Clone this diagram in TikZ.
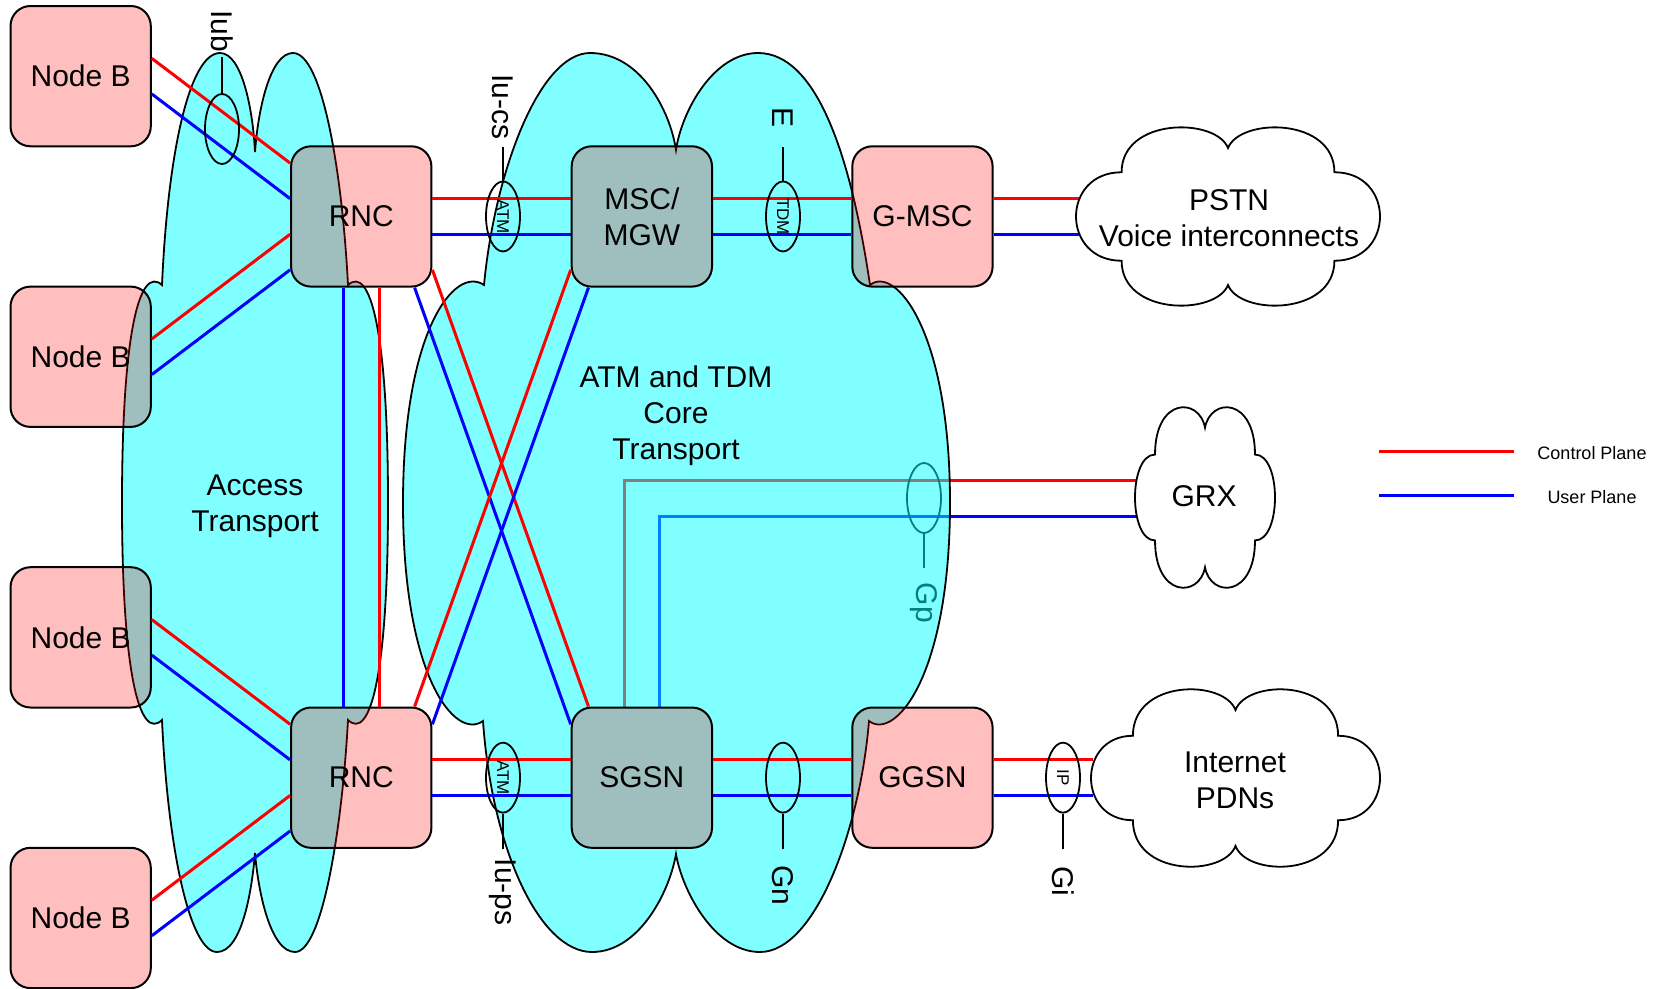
\documentclass[tikz,border=0pt]{standalone}
\usepackage{fontspec}
\setmainfont{Liberation Sans}
\usetikzlibrary{calc,shapes.geometric}
\definecolor{cloudcyan}{RGB}{0,255,255}
\definecolor{boxred}{RGB}{255,0,0}
\definecolor{cpred}{RGB}{255,0,0}
\definecolor{upblue}{RGB}{0,0,255}
\newcommand\bigfont{\fontsize{30}{36}\selectfont}
\newcommand\midfont{\fontsize{17}{20}\selectfont}
\newcommand\legfont{\fontsize{18}{21}\selectfont}
\pgfdeclarelayer{gplayer}
\pgfdeclarelayer{cloudlayer}
\pgfsetlayers{gplayer,cloudlayer,main}

\newcommand\defports[1]{%
  \foreach \k/\f in {1/0.125,3/0.375,5/0.625,7/0.875}{%
    \coordinate (#1-w\k) at ($(#1.north west)!\f!(#1.south west)$);
    \coordinate (#1-e\k) at ($(#1.north east)!\f!(#1.south east)$);
    \coordinate (#1-n\k) at ($(#1.north west)!\f!(#1.north east)$);
    \coordinate (#1-s\k) at ($(#1.south west)!\f!(#1.south east)$);
  }}

% white cloud: x0 y0 w h a b t
\newcommand\wcloud[7]{%
  \begin{scope}[shift={(#1,#2)},xscale=#3,yscale=#4]
    \pgfmathsetmacro\cA{#5}\pgfmathsetmacro\cB{#6}\pgfmathsetmacro\cT{#7}
    \pgfmathsetmacro\cK{-(\cB+\cT)/6}\pgfmathsetmacro\cM{-\cA/3}
    \pgfmathsetmacro\cAr{1-\cA}\pgfmathsetmacro\cBr{1-\cB}
    \pgfmathsetmacro\cTr{1-\cT}\pgfmathsetmacro\cKr{1-(\cK)}
    \pgfmathsetmacro\cMr{1-(\cM)}
    \path[wcl] (\cA,\cBr) .. controls (\cM,\cBr) and (\cM,\cB) .. (\cA,\cB)
      .. controls (\cA,\cK) and (0.46,\cK) .. (0.5,\cT)
      .. controls (0.54,\cK) and (\cAr,\cK) .. (\cAr,\cB)
      .. controls (\cMr,\cB) and (\cMr,\cBr) .. (\cAr,\cBr)
      .. controls (\cAr,\cKr) and (0.54,\cKr) .. (0.5,\cTr)
      .. controls (0.46,\cKr) and (\cA,\cKr) .. (\cA,\cBr) -- cycle;
  \end{scope}}

\begin{document}
\begin{tikzpicture}[x=1pt,y=-1pt,
  netbox/.style={draw=black, line width=2pt, rounded corners=20pt, fill=boxred,
    fill opacity=0.25, text opacity=1, minimum width=140.3pt, minimum height=140.3pt,
    inner sep=0pt, font=\bigfont, align=center},
  transport/.style={draw=black, line width=1.8pt, fill=cloudcyan, fill opacity=0.5},
  cp/.style={draw=cpred, line width=3pt},
  up/.style={draw=upblue, line width=3pt},
  ifell/.style={draw=black, line width=1.8pt, ellipse, minimum width=70pt,
    minimum height=34pt, inner sep=0pt, rotate=-90, font=\midfont},
  iflabel/.style={rotate=-90, font=\bigfont, inner sep=0pt},
  stem/.style={draw=black, line width=1.8pt},
  wcl/.style={draw=black, line width=1.8pt, fill=white},
  bigtext/.style={font=\bigfont, align=center, inner sep=0pt},
  legtext/.style={font=\legfont, inner sep=0pt}]

\useasboundingbox (0,0) rectangle (1654,988);

% ---------- boxes ----------
\node[netbox] (nb1) at (80.65,76.15) {Node B};
\node[netbox] (nb2) at (80.65,356.75) {Node B};
\node[netbox] (nb3) at (80.65,637.35) {Node B};
\node[netbox] (nb4) at (80.65,917.95) {Node B};
\node[netbox] (rnc1) at (361.25,216.45) {RNC};
\node[netbox] (rnc2) at (361.25,777.65) {RNC};
\node[netbox] (msc) at (641.85,216.45) {MSC/\\MGW};
\node[netbox] (sgsn) at (641.85,777.65) {SGSN};
\node[netbox] (gmsc) at (922.45,216.45) {G-MSC};
\node[netbox] (ggsn) at (922.45,777.65) {GGSN};
\foreach \n in {nb1,nb2,nb3,nb4,rnc1,rnc2,msc,sgsn,gmsc,ggsn}{\defports{\n}}

% cloud edge coordinates
\coordinate (pstnL) at (1079,0);
\coordinate (inetL) at (1093,0);
\coordinate (gpR) at (1136,480);
\coordinate (gpB) at (1136,516);

% ---------- Gp (behind the core transport) ----------
\begin{pgfonlayer}{gplayer}
  \draw[cp] (sgsn-n3) |- (gpR);
  \draw[up] (sgsn-n5) |- (gpB);
  \node[ifell] (gp) at (924,498) {};
  \draw[stem] (gp.east) -- ++(0,34);
  \node[iflabel] (gplab) at (924,603) {Gp};
\end{pgfonlayer}

% ---------- transport clouds ----------
\begin{pgfonlayer}{cloudlayer}
  \path[transport] (162,285) .. controls (168,150) and (190,53) .. (220,53)
    .. controls (242,53) and (253,110) .. (255,152)
    .. controls (258,110) and (270,53) .. (293,53)
    .. controls (322,53) and (342,170) .. (348,285)
    .. controls (370,265) and (388,330) .. (388,503)
    .. controls (388,676) and (370,741) .. (348,720)
    .. controls (342,830) and (322,952) .. (295,952)
    .. controls (270,952) and (258,890) .. (255,853)
    .. controls (252,890) and (242,952) .. (217,952)
    .. controls (190,952) and (168,850) .. (162,720)
    .. controls (140,741) and (122,676) .. (122,503)
    .. controls (122,330) and (140,265) .. (162,285) -- cycle;
  \path[transport] (484,285) .. controls (495,170) and (540,53) .. (590,53)
    .. controls (640,53) and (670,110) .. (676,150)
    .. controls (682,110) and (714,53) .. (758,53)
    .. controls (815,53) and (850,150) .. (870,285)
    .. controls (895,265) and (950,330) .. (950,503)
    .. controls (950,676) and (895,741) .. (869,721)
    .. controls (860,830) and (815,952) .. (760,952)
    .. controls (714,952) and (682,890) .. (676,854)
    .. controls (670,890) and (640,952) .. (592,952)
    .. controls (540,952) and (492,850) .. (483,721)
    .. controls (455,741) and (403,676) .. (403,503)
    .. controls (403,330) and (455,265) .. (484,285) -- cycle;
\end{pgfonlayer}

\node[bigtext] (acc) at (255,506) {Access\\Transport};
\node[bigtext] (core) at (676,416) {ATM and TDM\\Core\\Transport};

% ---------- connectors ----------
\draw[cp] (nb1-e3) -- (rnc1-w1);
\draw[up] (nb1-e5) -- (rnc1-w3);
\draw[cp] (nb2-e3) -- (rnc1-w5);
\draw[up] (nb2-e5) -- (rnc1-w7);
\draw[cp] (nb3-e3) -- (rnc2-w1);
\draw[up] (nb3-e5) -- (rnc2-w3);
\draw[cp] (nb4-e3) -- (rnc2-w5);
\draw[up] (nb4-e5) -- (rnc2-w7);
\draw[cp] (rnc1-e3) -- (msc-w3);
\draw[up] (rnc1-e5) -- (msc-w5);
\draw[cp] (msc-e3) -- (gmsc-w3);
\draw[up] (msc-e5) -- (gmsc-w5);
\draw[cp] (gmsc-e3) -- (gmsc-e3 -| pstnL);
\draw[up] (gmsc-e5) -- (gmsc-e5 -| pstnL);
\draw[cp] (rnc2-e3) -- (sgsn-w3);
\draw[up] (rnc2-e5) -- (sgsn-w5);
\draw[cp] (sgsn-e3) -- (ggsn-w3);
\draw[up] (sgsn-e5) -- (ggsn-w5);
\draw[cp] (ggsn-e3) -- (ggsn-e3 -| inetL);
\draw[up] (ggsn-e5) -- (ggsn-e5 -| inetL);
\draw[up] (rnc1-s3) -- (rnc2-n3);
\draw[cp] (rnc1-s5) -- (rnc2-n5);
\draw[cp] (rnc1-e7) -- (sgsn-n1);
\draw[up] (rnc1-s7) -- (sgsn-w1);
\draw[cp] (rnc2-n7) -- (msc-w7);
\draw[up] (rnc2-e1) -- (msc-s1);

% ---------- interfaces ----------
\node[ifell] (iub) at (222,129) {};
\draw[stem] (iub.west) -- ++(0,-36);
\node[iflabel] (iublab) at (222,31) {Iub};

\node[ifell] (iucs) at (503,216.45) {ATM};
\draw[stem] (iucs.west) -- ++(0,-34);
\node[iflabel] (iucslab) at (503,107) {Iu-cs};

\node[ifell] (eif) at (783,216.45) {TDM};
\draw[stem] (eif.west) -- ++(0,-34);
\node[iflabel] (elab) at (783,118) {E};

\node[ifell] (iups) at (503,777.65) {ATM};
\draw[stem] (iups.east) -- ++(0,35);
\node[iflabel] (iupslab) at (503,892) {Iu-ps};

\node[ifell] (gn) at (783,777.65) {};
\draw[stem] (gn.east) -- ++(0,35);
\node[iflabel] (gnlab) at (783,885) {Gn};

\node[ifell] (gi) at (1063,777.65) {IP};
\draw[stem] (gi.east) -- ++(0,35);
\node[iflabel] (gilab) at (1063,881) {Gi};

% ---------- external clouds ----------
\wcloud{1076}{128}{304}{177}{0.15}{0.25}{0.113}
\wcloud{1135}{408}{140}{179}{0.143}{0.26}{0.11}
\wcloud{1091}{690}{289}{176}{0.145}{0.26}{0.114}
\node[bigtext] (pstn) at (1229,218) {PSTN\\Voice interconnects};
\node[bigtext] (grx) at (1204,496) {GRX};
\node[bigtext] (inet) at (1235,780) {Internet\\PDNs};

% ---------- legend ----------
\coordinate (lgA) at (1379,451);
\coordinate (lgB) at (1514,451);
\coordinate (lgC) at (1379,495);
\coordinate (lgD) at (1514,495);
\draw[cp] (lgA) -- (lgB);
\draw[up] (lgC) -- (lgD);
\node[legtext] (lgcp) at (1592,453) {Control Plane};
\node[legtext] (lgup) at (1592,497) {User Plane};
\end{tikzpicture}
\end{document}
